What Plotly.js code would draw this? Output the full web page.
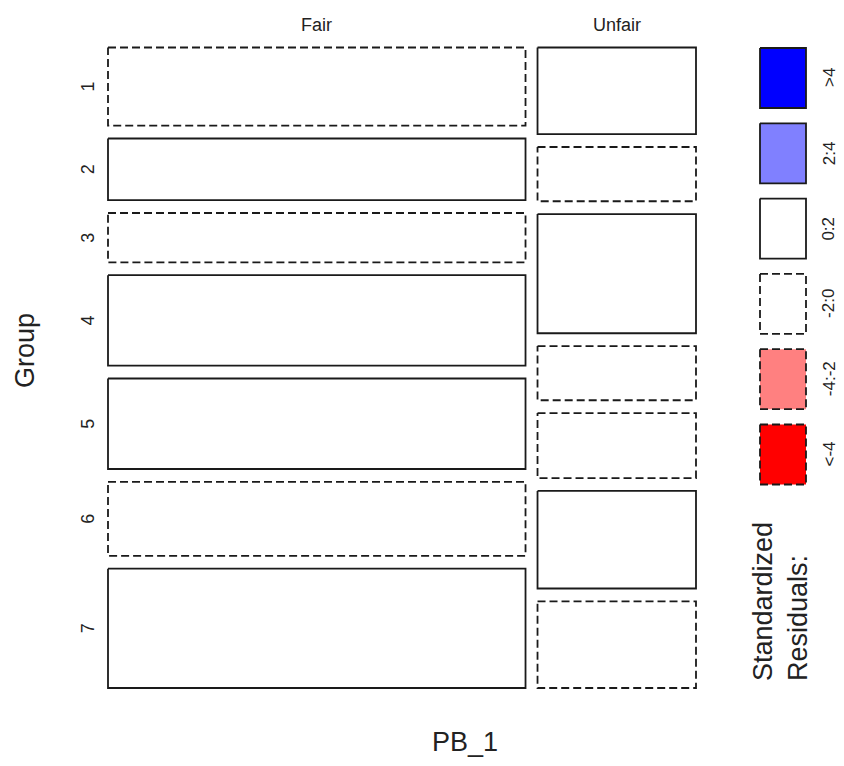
<!DOCTYPE html>
<html>
<head>
<meta charset="utf-8">
<script src="https://cdn.plot.ly/plotly-3.0.1.min.js"></script>
<style>html,body{margin:0;padding:0;background:#fff;}#chart{width:844px;height:766px;}</style>
</head>
<body>
<div id="chart"></div>
<script>
// ---- data ----
const groups = ['1', '2', '3', '4', '5', '6', '7'];
const pbLevels = ['Fair', 'Unfair'];
const fairCounts = [19, 15, 12, 22, 22, 18, 29];
const unfairCounts = [8, 5, 11, 5, 6, 9, 8];
const legendLabels = ['>4', '2:4', '0:2', '-2:0', '-4:-2', '<-4'];
const legendColors = ['#0000FF', '#8080FF', '#FFFFFF', '#FFFFFF', '#FF8080', '#FF0000'];
const legendDashed = [false, false, false, true, true, true];

// ---- layout constants (pixel space) ----
const W = 844, H = 766;
const MX0 = 108, MX1 = 696, COLGAP = 12;
const MY0 = 47.5, MY1 = 688, ROWGAP = 12.8;
const LINE = '#1a1a1a', DASH = '8px,4px', LW = 1.8;
const FONT = 'Liberation Sans, Arial, sans-serif';

const counts = [fairCounts, unfairCounts];
const colTotals = counts.map(c => c.reduce((a, b) => a + b, 0));
const N = colTotals[0] + colTotals[1];
const rowTotals = groups.map((g, i) => fairCounts[i] + unfairCounts[i]);

function shade(res) {
  const a = Math.abs(res);
  if (res >= 0) return a > 4 ? legendColors[0] : a > 2 ? legendColors[1] : legendColors[2];
  return a > 4 ? legendColors[5] : a > 2 ? legendColors[4] : legendColors[3];
}

function rect(x0, x1, y0, y1, fill, dashed) {
  return {
    type: 'scatter', mode: 'lines', hoverinfo: 'skip',
    x: [x0, x1, x1, x0, x0], y: [y0, y0, y1, y1, y0],
    fill: 'toself', fillcolor: fill,
    line: {color: LINE, width: LW, dash: dashed ? DASH : 'solid'}
  };
}

const traces = [];
const annotations = [];
const usableW = (MX1 - MX0) - COLGAP * (pbLevels.length - 1);
const usableH = (MY1 - MY0) - ROWGAP * (groups.length - 1);
let cx = MX0;
pbLevels.forEach((lvl, j) => {
  const w = usableW * colTotals[j] / N;
  let cy = MY0;
  groups.forEach((g, i) => {
    const h = usableH * counts[j][i] / colTotals[j];
    const e = rowTotals[i] * colTotals[j] / N;
    const res = (counts[j][i] - e) / Math.sqrt(e);
    traces.push(rect(cx, cx + w, cy, cy + h, shade(res), res < 0));
    if (j === 0) {
      annotations.push({x: 88, y: cy + h / 2, text: g, showarrow: false, textangle: -90,
        font: {family: FONT, size: 18, color: '#222'}, xanchor: 'center', yanchor: 'middle'});
    }
    cy += h + ROWGAP;
  });
  annotations.push({x: cx + w / 2, y: 25, text: lvl, showarrow: false,
    font: {family: FONT, size: 18, color: '#222'}, xanchor: 'center', yanchor: 'middle'});
  cx += w + COLGAP;
});

// legend
const LX0 = 760, LX1 = 806, LY0 = 48, LH = 60, LSTEP = 75.3;
legendLabels.forEach((lab, k) => {
  const y0 = LY0 + k * LSTEP;
  traces.push(rect(LX0, LX1, y0, y0 + LH, legendColors[k], legendDashed[k]));
  annotations.push({x: 829, y: y0 + LH / 2, text: lab, showarrow: false, textangle: -90,
    font: {family: FONT, size: 17, color: '#222'}, xanchor: 'center', yanchor: 'middle'});
});

annotations.push({x: 780, y: 602, text: 'Standardized<br>Residuals:', showarrow: false, textangle: -90,
  align: 'left', font: {family: FONT, size: 27, color: '#222'}, xanchor: 'center', yanchor: 'middle'});
annotations.push({x: 25, y: 351, text: 'Group', showarrow: false, textangle: -90,
  font: {family: FONT, size: 27, color: '#222'}, xanchor: 'center', yanchor: 'middle'});
annotations.push({x: 465, y: 742, text: 'PB_1', showarrow: false,
  font: {family: FONT, size: 27, color: '#222'}, xanchor: 'center', yanchor: 'middle'});

const layout = {
  width: W, height: H,
  margin: {l: 0, r: 0, t: 0, b: 0},
  paper_bgcolor: '#fff', plot_bgcolor: '#fff',
  showlegend: false,
  xaxis: {range: [0, W], visible: false, fixedrange: true},
  yaxis: {range: [H, 0], visible: false, fixedrange: true},
  annotations: annotations
};

Plotly.newPlot('chart', traces, layout, {staticPlot: true, displayModeBar: false});
</script>
</body>
</html>
